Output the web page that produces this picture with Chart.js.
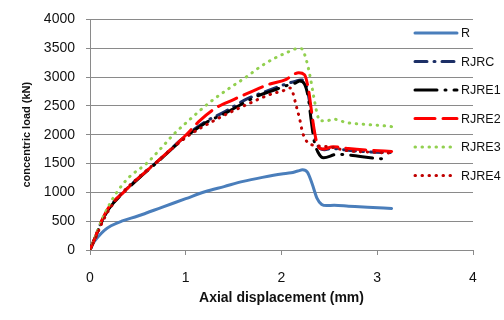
<!DOCTYPE html>
<html>
<head>
<meta charset="utf-8">
<script src="https://cdn.jsdelivr.net/npm/chart.js@4/dist/chart.umd.min.js"></script>
<style>
  html, body { margin: 0; padding: 0; background: #fff; }
  #wrap { width: 504px; height: 320px; }
</style>
</head>
<body>
<div id="wrap"><canvas id="chart"></canvas></div>
<script>
// axial displacement (mm) / concentric load (kN) for each column
const rDisp = [0, 0.03, 0.08, 0.15, 0.22, 0.33, 0.5, 0.75, 1.0, 1.2, 1.4, 1.6, 1.8, 2.0, 2.1, 2.17, 2.22, 2.27, 2.32, 2.37, 2.42, 2.47, 2.55, 2.7, 2.9, 3.15];
const rLoad = [0, 110, 220, 340, 420, 500, 590, 740, 890, 1010, 1100, 1190, 1260, 1320, 1340, 1370, 1390, 1350, 1150, 900, 790, 770, 775, 760, 740, 720];

const rjrcDisp = [0, 0.05, 0.12, 0.2, 0.34, 0.5, 0.7, 1.0, 1.2, 1.41, 1.64, 1.9, 2.05, 2.15, 2.2, 2.25, 2.29, 2.32, 2.35, 2.39, 2.45, 2.52, 2.7, 2.93, 3.15];
const rjrcLoad = [0, 200, 490, 730, 990, 1240, 1530, 1980, 2220, 2400, 2620, 2790, 2880, 2930, 2950, 2900, 2600, 2250, 1950, 1780, 1740, 1760, 1730, 1700, 1690];

const rjre1Disp = [0, 0.05, 0.12, 0.2, 0.34, 0.5, 0.7, 1.0, 1.2, 1.41, 1.64, 1.76, 1.9, 2.05, 2.15, 2.19, 2.24, 2.28, 2.31, 2.34, 2.38, 2.44, 2.58, 2.72, 2.98, 3.12];
const rjre1Load = [0, 200, 480, 720, 980, 1230, 1520, 1960, 2200, 2370, 2580, 2680, 2760, 2850, 2900, 2930, 2880, 2640, 2250, 1900, 1700, 1600, 1660, 1645, 1590, 1580];

const rjre2Disp = [0, 0.05, 0.12, 0.2, 0.35, 0.5, 0.68, 1.0, 1.15, 1.32, 1.5, 1.65, 1.88, 2.05, 2.12, 2.18, 2.24, 2.28, 2.31, 2.34, 2.38, 2.43, 2.54, 2.7, 2.93, 3.15];
const rjre2Load = [0, 200, 500, 750, 1000, 1240, 1500, 1990, 2250, 2470, 2610, 2720, 2880, 2960, 3040, 3075, 3040, 2800, 2450, 2100, 1800, 1750, 1790, 1760, 1730, 1710];

const rjre3Disp = [0, 0.05, 0.12, 0.2, 0.28, 0.4, 0.59, 0.75, 0.87, 1.0, 1.25, 1.45, 1.64, 1.78, 1.92, 2.05, 2.16, 2.21, 2.26, 2.3, 2.33, 2.37, 2.4, 2.47, 2.54, 2.68, 2.86, 3.1, 3.15];
const rjre3Load = [0, 200, 500, 780, 1000, 1250, 1500, 1780, 2000, 2200, 2560, 2800, 3010, 3180, 3320, 3420, 3490, 3490, 3290, 3000, 2720, 2380, 2240, 2240, 2270, 2210, 2180, 2150, 2140];

const rjre4Disp = [0, 0.05, 0.12, 0.2, 0.33, 0.5, 0.72, 1.0, 1.29, 1.64, 1.92, 2.0, 2.09, 2.12, 2.15, 2.19, 2.22, 2.27, 2.35, 2.5, 2.7, 2.9, 3.15];
const rjre4Load = [0, 180, 450, 700, 980, 1250, 1560, 1950, 2240, 2525, 2720, 2750, 2810, 2720, 2525, 2270, 2040, 1870, 1815, 1790, 1720, 1700, 1680];

const seriesNames = ['R', 'RJRC', 'RJRE1', 'RJRE2', 'RJRE3', 'RJRE4'];
const xTicks = [0, 1, 2, 3, 4];
const yTicks = [0, 500, 1000, 1500, 2000, 2500, 3000, 3500, 4000];

const FONT = "'Liberation Sans', Arial, sans-serif";
const GRID = '#8a8a8a';

function pairs(xs, ys) {
    return xs.map((x, i) => ({ x: x, y: ys[i] }));
}

const styles = [
    { color: '#4a7ebb', dash: [], width: 3 },
    { color: '#1c2f66', dash: [12, 7, 1, 7], width: 3 },
    { color: '#000000', dash: [22, 8, 1, 8], width: 3 },
    { color: '#ff0000', dash: [20, 8], width: 3 },
    { color: '#92d050', dash: [0.5, 6.5], width: 3 },
    { color: '#c00000', dash: [0.5, 6.5], width: 3 }
];

const allData = [
    pairs(rDisp, rLoad),
    pairs(rjrcDisp, rjrcLoad),
    pairs(rjre1Disp, rjre1Load),
    pairs(rjre2Disp, rjre2Load),
    pairs(rjre3Disp, rjre3Load),
    pairs(rjre4Disp, rjre4Load)
];

const datasets = seriesNames.map((name, i) => ({
    label: name,
    data: allData[i],
    borderColor: styles[i].color,
    backgroundColor: styles[i].color,
    borderWidth: styles[i].width,
    borderDash: styles[i].dash,
    borderCapStyle: 'round',
    borderJoinStyle: 'round',
    cubicInterpolationMode: 'monotone',
    pointRadius: 0,
    fill: false,
    order: seriesNames.length - i   // later series drawn on top
}));

// legend drawn over the right side of the plot
const sideLegend = {
    id: 'sideLegend',
    afterDraw(chart) {
        const ctx = chart.ctx;
        ctx.save();
        chart.data.datasets.forEach((ds, i) => {
            const y = 33 + i * 28.5;
            ctx.beginPath();
            ctx.strokeStyle = ds.borderColor;
            ctx.lineWidth = ds.borderWidth;
            ctx.lineCap = 'round';
            ctx.setLineDash(ds.borderDash);
            ctx.moveTo(415, y);
            ctx.lineTo(457, y);
            ctx.stroke();
            ctx.setLineDash([]);
            ctx.fillStyle = '#111';
            ctx.font = '12.5px ' + FONT;
            ctx.textAlign = 'left';
            ctx.textBaseline = 'middle';
            ctx.fillText(ds.label, 461, y + 1);
        });
        ctx.restore();
    }
};

new Chart(document.getElementById('chart').getContext('2d'), {
    type: 'line',
    data: { datasets: datasets },
    options: {
        responsive: true,
        maintainAspectRatio: false,
        animation: false,
        layout: { padding: { left: 0, right: 31, top: 15, bottom: 0 } },
        plugins: {
            legend: { display: false },
            tooltip: { enabled: false }
        },
        scales: {
            x: {
                type: 'linear',
                min: 0,
                max: 4,
                afterBuildTicks: (scale) => { scale.ticks = xTicks.map(v => ({ value: v })); },
                afterFit: (scale) => { scale.height = 70; },
                ticks: { color: '#111', font: { family: FONT, size: 14 }, padding: 15 },
                grid: { drawOnChartArea: false, drawTicks: true, tickLength: 5, color: GRID },
                border: { color: GRID, width: 1 },
                title: {
                    display: true,
                    text: 'Axial displacement (mm)',
                    color: '#111',
                    font: { family: FONT, size: 14, weight: 'bold' },
                    padding: { top: 0, bottom: 13 }
                }
            },
            y: {
                min: 0,
                max: 4000,
                afterBuildTicks: (scale) => { scale.ticks = yTicks.map(v => ({ value: v })); },
                afterFit: (scale) => { scale.width = 90; },
                ticks: {
                    color: '#111',
                    font: { family: FONT, size: 14 },
                    padding: 11,
                    callback: (v) => String(v)
                },
                grid: { color: GRID, lineWidth: 1, tickLength: 4 },
                border: { color: GRID, width: 1 },
                title: {
                    display: true,
                    text: 'concentric load (kN)',
                    color: '#111',
                    font: { family: FONT, size: 11, weight: 'bold' },
                    padding: { top: 20, bottom: 0 }
                }
            }
        }
    },
    plugins: [sideLegend]
});
</script>
</body>
</html>
